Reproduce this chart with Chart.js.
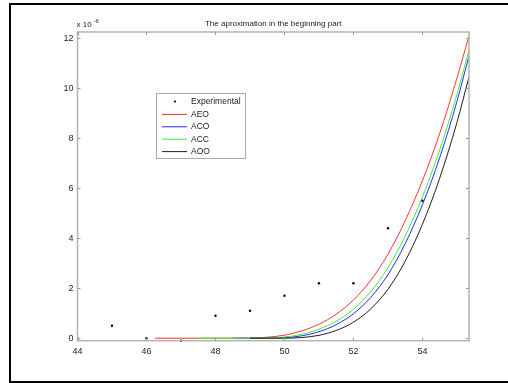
<!DOCTYPE html>
<html lang="en">
<head>
    <meta charset="UTF-8">
    <title>The aproximation in the beginning part</title>
    <script src="https://cdn.jsdelivr.net/npm/chart.js"></script>
    <style>
        body { margin: 0; background: #fff; overflow: hidden; }
        #box { position: relative; width: 508px; height: 383px; }
    </style>
</head>
<body>
    <div id="box">
        <canvas id="ChartAprox" width="508" height="383"></canvas>
    </div>
<script>
    // values in units of 1e-6
    const expX = [45, 46, 47, 48, 49, 50, 51, 52, 53, 54];
    const expY = [0.5, 0, -0.1, 0.9, 1.1, 1.7, 2.2, 2.2, 4.4, 5.5];

    const xGrid = [46.25, 47, 47.5, 48, 48.5, 49, 49.5, 50, 50.5, 51, 51.5, 52, 52.5, 53, 53.5, 54, 54.5, 55, 55.35];
    const aeo = [0, 0, 0, 0, 0, 0.005, 0.04, 0.12, 0.29, 0.56, 0.96, 1.53, 2.31, 3.36, 4.70, 6.30, 8.19, 10.4, 12.1];
    const aco = [null, null, null, null, 0, 0, 0.001, 0.02, 0.095, 0.26, 0.54, 0.98, 1.63, 2.54, 3.78, 5.34, 7.22, 9.47, 11.3];
    const acc = [null, null, 0, 0, 0, 0, 0.007, 0.048, 0.155, 0.36, 0.68, 1.16, 1.86, 2.82, 4.08, 5.65, 7.53, 9.75, 11.54];
    const aoo = [null, null, null, null, null, 0, 0, 0.002, 0.027, 0.115, 0.31, 0.64, 1.17, 1.96, 3.08, 4.56, 6.40, 8.63, 10.46];

    const xTicks = [44, 46, 48, 50, 52, 54];
    const yTicks = [0, 2, 4, 6, 8, 10, 12];

    const fonte = "'Liberation Sans', Arial, sans-serif";

    function pontos(xs, ys) {
        const out = [];
        xs.forEach((x, i) => {
            if (ys[i] !== null) out.push({ x: x, y: ys[i] });
        });
        return out;
    }

    function curva(label, cor, valores, ordem) {
        return {
            label: label,
            data: pontos(xGrid, valores),
            showLine: true,
            borderColor: cor,
            backgroundColor: cor,
            borderWidth: 1,
            pointRadius: 0,
            cubicInterpolationMode: 'monotone',
            order: ordem
        };
    }

    // moldura, ticks para dentro, titulo, expoente e legenda estilo matlab
    const moldura = {
        id: 'moldura',
        afterDatasetsDraw(chart) {
            const ctx = chart.ctx;
            const a = chart.chartArea;
            const sx = chart.scales.x;
            const sy = chart.scales.y;
            ctx.save();

            ctx.fillStyle = '#000';
            ctx.fillRect(9, 3, 499, 2);
            ctx.fillRect(9, 3, 2, 380);
            ctx.fillRect(9, 381, 499, 2);

            ctx.strokeStyle = '#b4b4b4';
            ctx.lineWidth = 1.5;
            ctx.strokeRect(a.left, a.top, a.right - a.left, a.bottom - a.top);

            ctx.lineWidth = 1;
            ctx.strokeStyle = '#999';
            ctx.beginPath();
            xTicks.forEach(v => {
                const p = Math.round(sx.getPixelForValue(v)) + 0.5;
                ctx.moveTo(p, a.bottom); ctx.lineTo(p, a.bottom - 3);
                ctx.moveTo(p, a.top); ctx.lineTo(p, a.top + 3);
            });
            yTicks.forEach(v => {
                const p = Math.round(sy.getPixelForValue(v)) + 0.5;
                ctx.moveTo(a.left, p); ctx.lineTo(a.left + 3, p);
                ctx.moveTo(a.right, p); ctx.lineTo(a.right - 3, p);
            });
            ctx.stroke();

            ctx.fillStyle = '#222';
            ctx.font = `8px ${fonte}`;
            ctx.textAlign = 'center';
            ctx.textBaseline = 'middle';
            ctx.fillText('The aproximation in the beginning part', (a.left + a.right) / 2, 24);

            ctx.textAlign = 'left';
            ctx.fillText('x 10', a.left - 1, 25);
            ctx.font = `6px ${fonte}`;
            ctx.fillText('-6', a.left + 16, 21);

            // legenda
            const lx = 156, ly = 93, lw = 89, lh = 65;
            ctx.fillStyle = '#fff';
            ctx.fillRect(lx, ly, lw, lh);
            ctx.strokeStyle = '#aaa';
            ctx.lineWidth = 1;
            ctx.strokeRect(lx + 0.5, ly + 0.5, lw, lh);
            ctx.font = `8.5px ${fonte}`;
            const ordemLeg = [0, 1, 2, 3, 4];
            ordemLeg.forEach((i, k) => {
                const ds = chart.data.datasets[i];
                const y = ly + 8.5 + k * 12.4;
                if (ds.showLine) {
                    ctx.strokeStyle = ds.borderColor;
                    ctx.beginPath();
                    ctx.moveTo(lx + 6, y + 0.5);
                    ctx.lineTo(lx + 31, y + 0.5);
                    ctx.stroke();
                } else {
                    ctx.fillStyle = '#000';
                    ctx.beginPath();
                    ctx.arc(lx + 19, y, 1.1, 0, Math.PI * 2);
                    ctx.fill();
                }
                ctx.fillStyle = '#222';
                ctx.fillText(ds.label, lx + 35, y + 0.5);
            });
            ctx.restore();
        }
    };

    const data1 = {
        datasets: [
            {
                label: 'Experimental',
                data: pontos(expX, expY),
                showLine: false,
                pointStyle: 'circle',
                pointRadius: 1.2,
                pointBorderWidth: 0,
                backgroundColor: '#000',
                borderColor: '#000',
                clip: 4,
                order: 0
            },
            curva('AEO', 'rgb(255,50,50)', aeo, 4),
            curva('ACO', 'rgb(40,40,255)', aco, 3),
            curva('ACC', 'rgb(60,240,60)', acc, 2),
            curva('AOO', 'rgb(30,30,30)', aoo, 1)
        ]
    };

    const config1 = {
        type: 'scatter',
        data: data1,
        plugins: [moldura],
        options: {
            responsive: false,
            animation: false,
            layout: { padding: { left: 0, top: 32, right: 39, bottom: 0 } },
            plugins: {
                legend: { display: false },
                title: { display: false },
                tooltip: { enabled: false }
            },
            scales: {
                x: {
                    type: 'linear',
                    min: 44,
                    max: 55.35,
                    afterBuildTicks: s => { s.ticks = xTicks.map(v => ({ value: v })); },
                    afterFit: s => { s.height = 42.3; },
                    grid: { display: false, drawTicks: false },
                    border: { display: false },
                    ticks: { color: '#222', font: { family: fonte, size: 9 }, padding: 5, maxRotation: 0 }
                },
                y: {
                    type: 'linear',
                    min: -0.1,
                    max: 12.25,
                    afterBuildTicks: s => { s.ticks = yTicks.map(v => ({ value: v })); },
                    afterFit: s => { s.width = 77.5; },
                    grid: { display: false, drawTicks: false },
                    border: { display: false },
                    ticks: { color: '#222', font: { family: fonte, size: 9 }, padding: 4 }
                }
            }
        }
    };

    const myChart = new Chart(document.getElementById('ChartAprox'), config1);
</script>
</body>
</html>
